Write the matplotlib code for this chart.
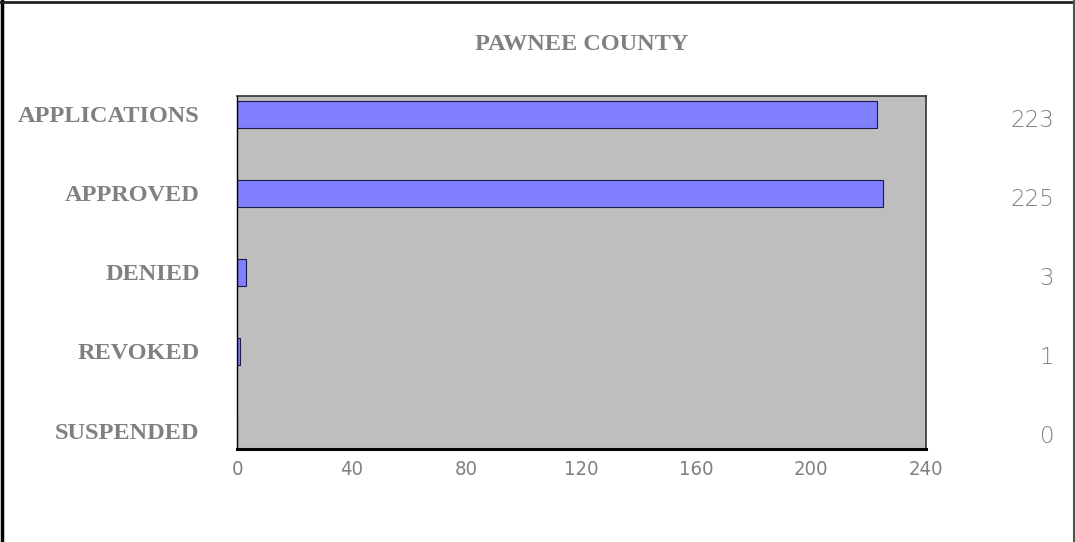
import matplotlib.pyplot as plt
import matplotlib.transforms as mtransforms
from matplotlib.lines import Line2D

# Pawnee County permit counts
categories = ["APPLICATIONS", "APPROVED", "DENIED", "REVOKED", "SUSPENDED"]
counts = [223, 225, 3, 1, 0]
xticks = [0, 40, 80, 120, 160, 200, 240]

gray_txt = '#808080'

fig = plt.figure(figsize=(10.75, 5.42), dpi=100, facecolor='white')
ax = fig.add_axes([0.2205, 0.1716, 0.641, 0.6513], facecolor='#BEBEBE')

ypos = list(range(len(categories)))
ax.barh(ypos, counts, height=0.33, color='#8080FF', edgecolor='#1A1A4D', linewidth=0.8)

ax.set_xlim(0, 240)
ax.set_ylim(4.234, -0.234)
ax.set_xticks(xticks)
ax.set_xticklabels([str(t) for t in xticks], family='DejaVu Sans', stretch='condensed',
                   fontsize=14.5, color=gray_txt)
ax.set_yticks(ypos)
ax.set_yticklabels(categories, family='Liberation Serif', weight='bold',
                   fontsize=17.5, color=gray_txt)
ax.tick_params(axis='x', length=0, pad=8)
ax.tick_params(axis='y', length=0, pad=27)

for side in ['top', 'right']:
    ax.spines[side].set_color('#333333')
    ax.spines[side].set_linewidth(1.2)
ax.spines['left'].set_color('black')
ax.spines['left'].set_linewidth(1.0)
ax.spines['bottom'].set_color('black')
ax.spines['bottom'].set_linewidth(2.2)

# value labels on the right
trans = mtransforms.blended_transform_factory(fig.transFigure, ax.transData)
for y, v in zip(ypos, counts):
    ax.text(0.9805, y + 0.08, str(v), transform=trans, ha='right', va='center',
            fontsize=16.5, color=gray_txt, family='DejaVu Sans', weight='light')

fig.text(0.541, 0.917, "PAWNEE COUNTY", ha='center', va='center', family='Liberation Serif',
         weight='bold', fontsize=17.5, color=gray_txt)

# outer frame (left, top, right)
fig.add_artist(Line2D([0.0015, 0.0015], [0, 1], transform=fig.transFigure, color='black', lw=2.5))
fig.add_artist(Line2D([0, 1], [0.9965, 0.9965], transform=fig.transFigure, color='#222222', lw=2.0))
fig.add_artist(Line2D([0.9990, 0.9990], [0, 1], transform=fig.transFigure, color='#555555', lw=1.5))

fig.savefig('out.png', dpi=100)
